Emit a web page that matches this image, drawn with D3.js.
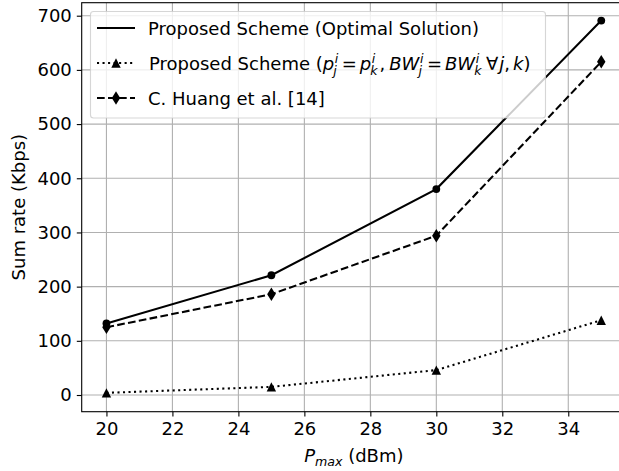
<!DOCTYPE html>
<html>
<head>
<meta charset="utf-8">
<script src="https://cdnjs.cloudflare.com/ajax/libs/d3/7.8.5/d3.min.js"></script>
<style>
  body { margin: 0; background: #fff; }
  text { font-family: "DejaVu Sans", sans-serif; fill: #000; }
</style>
</head>
<body>
<svg id="chart" width="619" height="471"></svg>
<script>
// data
var pmax = [20, 25, 30, 35];
var optimal = [132, 221, 380, 691];
var equalAlloc = [4, 15, 46, 138];
var huang = [125, 186, 294, 615];
var xTicks = [20, 22, 24, 26, 28, 30, 32, 34];
var yTicks = [0, 100, 200, 300, 400, 500, 600, 700];

var svg = d3.select('#chart');
var W = 619, H = 471;
var pLeft = 81.7, pRight = 626, pTop = 2.7, pBottom = 411.7;
var fs = 18;

svg.append('rect').attr('width', W).attr('height', H).style('fill', 'white');

var x = d3.scaleLinear().domain([19.25, 35.75]).range([pLeft, pRight]);
var y = d3.scaleLinear().domain([-30.8, 724]).range([pBottom, pTop]);

// grid
var grid = svg.append('g');
grid.selectAll('line.gx')
    .data(xTicks)
    .enter().append('line')
    .attr('x1', function(d) { return x(d); })
    .attr('x2', function(d) { return x(d); })
    .attr('y1', pTop).attr('y2', pBottom)
    .style('stroke', '#b0b0b0').style('stroke-width', 1.1);
grid.selectAll('line.gy')
    .data(yTicks)
    .enter().append('line')
    .attr('y1', function(d) { return y(d); })
    .attr('y2', function(d) { return y(d); })
    .attr('x1', pLeft).attr('x2', pRight)
    .style('stroke', '#b0b0b0').style('stroke-width', 1.1);

// axes
var xAxis = d3.axisBottom(x).tickValues(xTicks).tickSize(4.9).tickPadding(6);
var yAxis = d3.axisLeft(y).tickValues(yTicks).tickSize(4.9).tickPadding(5);

var gx = svg.append('g').attr('transform', 'translate(0,' + pBottom + ')').call(xAxis);
var gy = svg.append('g').attr('transform', 'translate(' + pLeft + ',0)').call(yAxis);
[gx, gy].forEach(function(g) {
    g.select('.domain').remove();
    g.selectAll('line').style('stroke', '#000').style('stroke-width', 1.1);
    g.selectAll('text').style('font-size', fs + 'px').style('fill', '#000')
        .style('font-family', '"DejaVu Sans", sans-serif');
});

// spines (right one falls outside the picture)
svg.append('rect')
    .attr('x', pLeft).attr('y', pTop)
    .attr('width', pRight - pLeft).attr('height', pBottom - pTop)
    .style('fill', 'none').style('stroke', '#000').style('stroke-width', 1.1);

// series
var lw = 2.08;
var series = [
    { vals: optimal, dash: null, marker: 'circle' },
    { vals: equalAlloc, dash: '2.08,3.44', marker: 'triangle' },
    { vals: huang, dash: '7.7,3.3', marker: 'diamond' }
];

function drawMarker(g, type, cx, cy) {
    if (type == 'circle') {
        g.append('circle').attr('cx', cx).attr('cy', cy).attr('r', 3.9)
            .style('fill', '#000');
    } else if (type == 'triangle') {
        var s = 4.7;
        g.append('path')
            .attr('d', 'M' + cx + ',' + (cy - s) + 'L' + (cx - s) + ',' + (cy + s) + 'L' + (cx + s) + ',' + (cy + s) + 'Z')
            .style('fill', '#000');
    } else {
        var hw = 4.2, hh = 6.8;
        g.append('path')
            .attr('d', 'M' + cx + ',' + (cy - hh) + 'L' + (cx + hw) + ',' + cy + 'L' + cx + ',' + (cy + hh) + 'L' + (cx - hw) + ',' + cy + 'Z')
            .style('fill', '#000');
    }
}

var line = d3.line()
    .x(function(d, i) { return x(pmax[i]); })
    .y(function(d) { return y(d); });

var gLines = svg.append('g');
series.forEach(function(s) {
    gLines.append('path')
        .datum(s.vals)
        .attr('d', line)
        .style('fill', 'none')
        .style('stroke', '#000')
        .style('stroke-width', lw)
        .style('stroke-dasharray', s.dash);
    s.vals.forEach(function(v, i) {
        drawMarker(gLines, s.marker, x(pmax[i]), y(v));
    });
});

// axis labels
var xl = svg.append('text')
    .attr('x', (pLeft + pRight) / 2).attr('y', 462)
    .attr('text-anchor', 'middle')
    .style('font-size', fs + 'px');
xl.append('tspan').style('font-style', 'italic').text('P');
xl.append('tspan').style('font-style', 'italic').style('font-size', (fs * 0.7) + 'px')
    .attr('dy', 4).text('max');
xl.append('tspan').attr('dy', -4).text('\u00a0(dBm)');

svg.append('text')
    .attr('transform', 'translate(25,' + ((pTop + pBottom) / 2) + ') rotate(-90)')
    .attr('text-anchor', 'middle')
    .style('font-size', fs + 'px')
    .text('Sum rate (Kbps)');

// legend
var leg = svg.append('g');
leg.append('rect')
    .attr('x', 90.5).attr('y', 11.5)
    .attr('width', 455).attr('height', 106.5)
    .attr('rx', 3)
    .style('fill', 'white').style('fill-opacity', 0.8)
    .style('stroke', '#cccccc').style('stroke-opacity', 0.8).style('stroke-width', 1.1);

var rows = [28, 63, 98];
var hx1 = 97, hx2 = 135, tx = 148;
series.forEach(function(s, i) {
    leg.append('line')
        .attr('x1', hx1).attr('x2', hx2)
        .attr('y1', rows[i]).attr('y2', rows[i])
        .style('stroke', '#000').style('stroke-width', lw)
        .style('stroke-dasharray', s.dash);
    if (i > 0) drawMarker(leg, s.marker, (hx1 + hx2) / 2, rows[i]);
});

function label(txt, row) {
    leg.append('text').attr('x', tx).attr('y', row + 7)
        .style('font-size', fs + 'px').text(txt);
}
label('Proposed Scheme (Optimal Solution)', rows[0]);
label('C. Huang et al. [14]', rows[2]);

// math label, laid out piece by piece
var segs = [
    { t: 'Proposed Scheme (' },
    { t: 'p', it: true, sup: 'i', sub: 'j' },
    { t: '=', gap: 3 },
    { t: 'p', it: true, sup: 'i', sub: 'k' },
    { t: ',', after: 4 },
    { t: 'BW', it: true, sup: 'i', sub: 'j' },
    { t: '=', gap: 3 },
    { t: 'BW', it: true, sup: 'i', sub: 'k' },
    { t: '\u2200', gap: 2.5, after: -1.5 },
    { t: 'j', it: true },
    { t: ',', after: 3 },
    { t: 'k', it: true },
    { t: ')' }
];
var cx = tx + 1, base = rows[1] + 7;
segs.forEach(function(s) {
    if (s.gap) cx += s.gap;
    var t = leg.append('text').attr('x', cx).attr('y', base)
        .style('font-size', fs + 'px')
        .style('font-style', s.it ? 'italic' : 'normal')
        .text(s.t);
    cx += t.node().getComputedTextLength();
    if (s.gap) cx += s.gap;
    if (s.after) cx += s.after;
    if (s.sup) {
        var a = leg.append('text').attr('x', cx + 0.5).attr('y', base - 7)
            .style('font-size', (fs * 0.7) + 'px').style('font-style', 'italic').text(s.sup);
        var b = leg.append('text').attr('x', cx - 1).attr('y', base + 4.5)
            .style('font-size', (fs * 0.7) + 'px').style('font-style', 'italic').text(s.sub);
        cx += Math.max(a.node().getComputedTextLength(), b.node().getComputedTextLength()) + 1;
    }
});
</script>
</body>
</html>
